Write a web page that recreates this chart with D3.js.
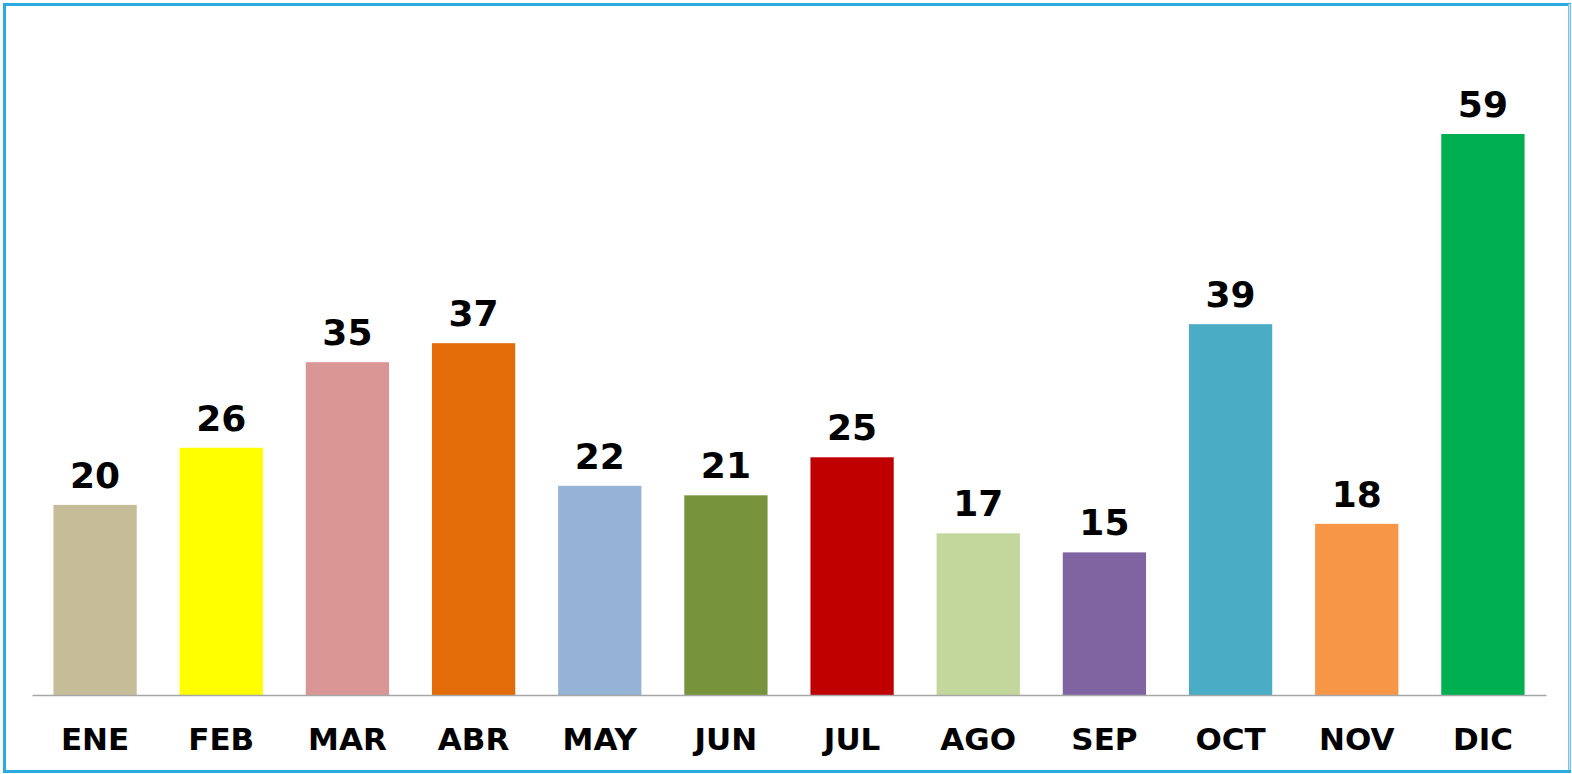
<!DOCTYPE html>
<html><head><meta charset="utf-8">
<script src="https://cdn.jsdelivr.net/npm/d3@7"></script>
<style>
html,body{margin:0;padding:0;background:#fff;overflow:hidden;}
text{font-family:"DejaVu Sans",sans-serif;font-weight:bold;}
</style></head>
<body>
<svg id="chart" width="1572" height="774"></svg>
<script>
const categories = ["ENE","FEB","MAR","ABR","MAY","JUN","JUL","AGO","SEP","OCT","NOV","DIC"];
const values = [20,26,35,37,22,21,25,17,15,39,18,59];
const colors = ["#C4BD97","#FFFF00","#D99694","#E36C09","#95B3D7","#77933C","#C00000","#C3D69B","#8064A2","#4BACC6","#F79646","#00B050"];

const svg = d3.select("#chart");

// frame
svg.append("rect").attr("x",4.5).attr("y",4.5).attr("width",1565).attr("height",767)
  .attr("fill","#fff").attr("stroke","#29ABE2").attr("stroke-width",3);
svg.append("line").attr("x1",1569.5).attr("x2",1569.5).attr("y1",4).attr("y2",770)
  .attr("stroke","#BFE3F4").attr("stroke-width",2);

const x0 = 32, x1 = 1546, baseY = 695;
const x = d3.scaleBand().domain(categories).range([x0,x1]).paddingInner(0.34).paddingOuter(0.17);
const y = d3.scaleLinear().domain([0,59]).range([baseY,134]);

const g = svg.append("g");
g.selectAll("rect.bar").data(values).join("rect").attr("class","bar")
  .attr("x",(d,i)=>x(categories[i]))
  .attr("y",d=>y(d))
  .attr("width",x.bandwidth())
  .attr("height",d=>baseY-y(d))
  .attr("fill",(d,i)=>colors[i]);

const axis = d3.axisBottom(x).tickSize(0).tickPadding(0);
const ag = svg.append("g").attr("transform",`translate(0,${baseY})`).call(axis);
ag.select(".domain").attr("stroke","#A6A6A6").attr("stroke-width",1.5);
ag.selectAll(".tick text").attr("dy",null).attr("y",55)
  .style("font-family","'DejaVu Sans',sans-serif").style("font-weight","bold")
  .style("font-size","31px").attr("fill","#000");

g.selectAll("text.val").data(values).join("text").attr("class","val")
  .attr("x",(d,i)=>x(categories[i])+x.bandwidth()/2)
  .attr("y",d=>y(d)-17)
  .attr("text-anchor","middle")
  .style("font-size","36px").attr("fill","#000")
  .text(d=>d);
</script>
</body></html>
